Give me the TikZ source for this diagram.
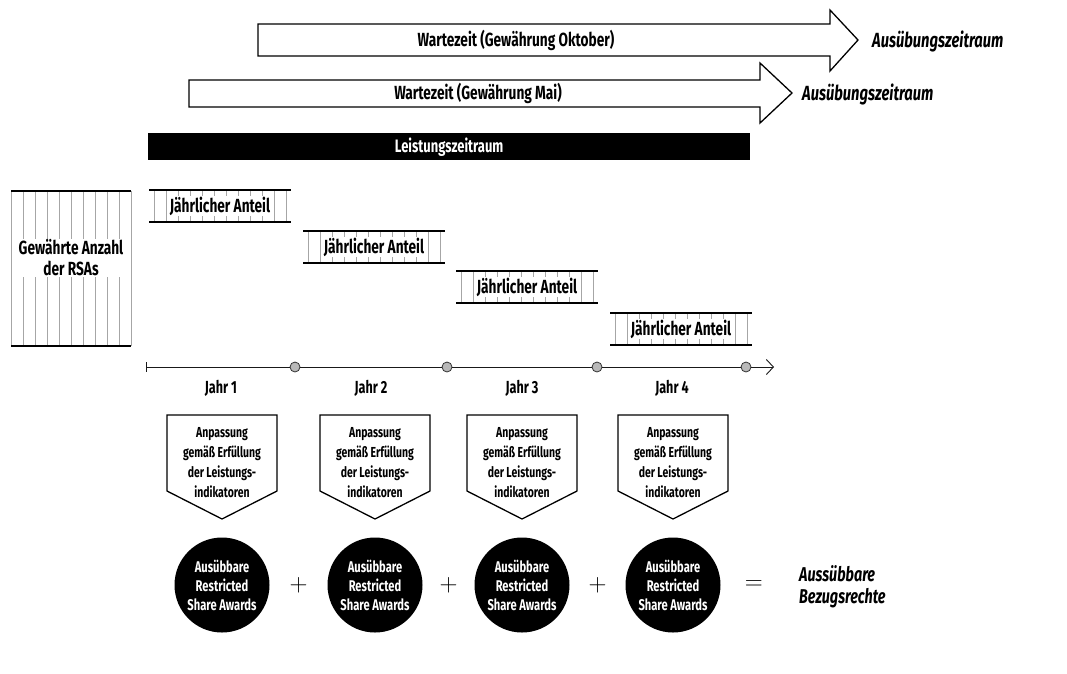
\documentclass[tikz,border=0pt]{standalone}
\usepackage{fontspec}
\setmainfont{Fira Sans}[FakeStretch=0.72]
\usetikzlibrary{arrows.meta,calc}

\begin{document}
\begin{tikzpicture}[x=1pt,y=-1pt,
    txt/.style={font=\bfseries\fontsize{19}{21}\selectfont, inner sep=1pt, align=center},
    ital/.style={font=\bfseries\itshape\fontsize{20.5}{22}\selectfont, inner sep=0pt, align=left, anchor=west},
    hatch/.style={gray!70, line width=0.5pt},
    rim/.style={line width=2.5pt},
    outline/.style={line width=1.3pt},
    award/.style={circle, fill=black, minimum size=95pt, inner sep=0pt, text=white, align=center, font=\bfseries\fontsize{15.5}{19}\selectfont},
    yearmark/.style={circle, fill=gray!55, draw=gray!40!black, line width=0.8pt, inner sep=0pt, minimum size=10pt},
    sign/.style={inner sep=0pt, font=\fontsize{28}{28}\selectfont}]
  \useasboundingbox (0,0) rectangle (1067,673);

  % waiting periods
  \draw[outline] (258,24) -- (830,24) -- (830,10) -- (858,40) -- (830,71) -- (830,56) -- (258,56) -- cycle;
  \node[txt] (waitoct) at (516,40) {Wartezeit (Gewährung Oktober)};
  \node[ital] (exoct) at (872,41) {Ausübungszeitraum};
  \draw[outline] (189,80) -- (760,80) -- (760,63) -- (792,93) -- (760,123) -- (760,107) -- (189,107) -- cycle;
  \node[txt] (waitmai) at (478,93) {Wartezeit (Gewährung Mai)};
  \node[ital] (exmai) at (802,94) {Ausübungszeitraum};

  \node[fill=black, text=white, txt, font=\bfseries\fontsize{18}{20}\selectfont, minimum width=602pt, minimum height=27pt, anchor=north west] (perf) at (148,133) {Leistungszeitraum};

  % granted RSAs
  \foreach \k in {0,...,10} \draw[hatch] ({11+12*\k},191) -- ({11+12*\k},346);
  \draw[rim] (11,191) -- (131,191) (11,346) -- (131,346);
  \node[txt, fill=white] (granted) at (71,258) {Gewährte Anzahl\\der RSAs};

  % annual shares
  \foreach \xa/\ya [count=\i] in {149/190, 303/231, 456/271, 610/313}{
    \foreach \k in {0,...,11} \draw[hatch] ({\xa+5+12*\k},\ya) -- ++(0,32);
    \draw[rim] (\xa,\ya) -- ++(142,0) (\xa,\ya+32) -- ++(142,0);
    \node[txt, fill=white] (share\i) at (\xa+71,\ya+16) {Jährlicher Anteil};
  }

  % time line
  \coordinate (t0) at (146,367);
  \coordinate (tend) at (774,367);
  \foreach \tx [count=\i] in {295,447,597,746}
    \node[yearmark] (t\i) at (\tx,367) {};
  \draw[-{Straight Barb[length=7pt,width=15pt]}, line width=0.9pt, gray!20!black] (t0) -- (t1) -- (t2) -- (t3) -- (t4) -- (tend);
  \draw[line width=0.9pt, gray!20!black] (146,362) -- (146,372);

  \foreach \cx [count=\i] in {221,371,522,672}
    \node[txt, font=\bfseries\fontsize{17.5}{20}\selectfont] (year\i) at (\cx,388) {Jahr \i};

  % adjustment and awards
  \foreach \cx [count=\i] in {222,375,522,673}{
    \draw[outline] (\cx-55,415) -- (\cx+55,415) -- (\cx+55,491) -- (\cx,519) -- (\cx-55,491) -- cycle;
    \node[txt, font=\bfseries\fontsize{14.5}{20}\selectfont] (adj\i) at (\cx,463) {Anpassung\\gemäß Erfüllung\\der Leistungs-\\indikatoren};
    \node[award] (rsa\i) at (\cx,585) {Ausübbare\\Restricted\\Share Awards};
  }
  \node[sign] (plus1) at ($(rsa1)!0.5!(rsa2)$) {$+$};
  \node[sign] (plus2) at ($(rsa2)!0.5!(rsa3)$) {$+$};
  \node[sign] (plus3) at ($(rsa3)!0.5!(rsa4)$) {$+$};
  \node[sign] (equals) at ([xshift=33pt]rsa4.east) {$=$};
  \node[ital, font=\bfseries\itshape\fontsize{20}{22}\selectfont] (total) at (799,587) {Aussübbare\\Bezugsrechte};
\end{tikzpicture}
\end{document}
